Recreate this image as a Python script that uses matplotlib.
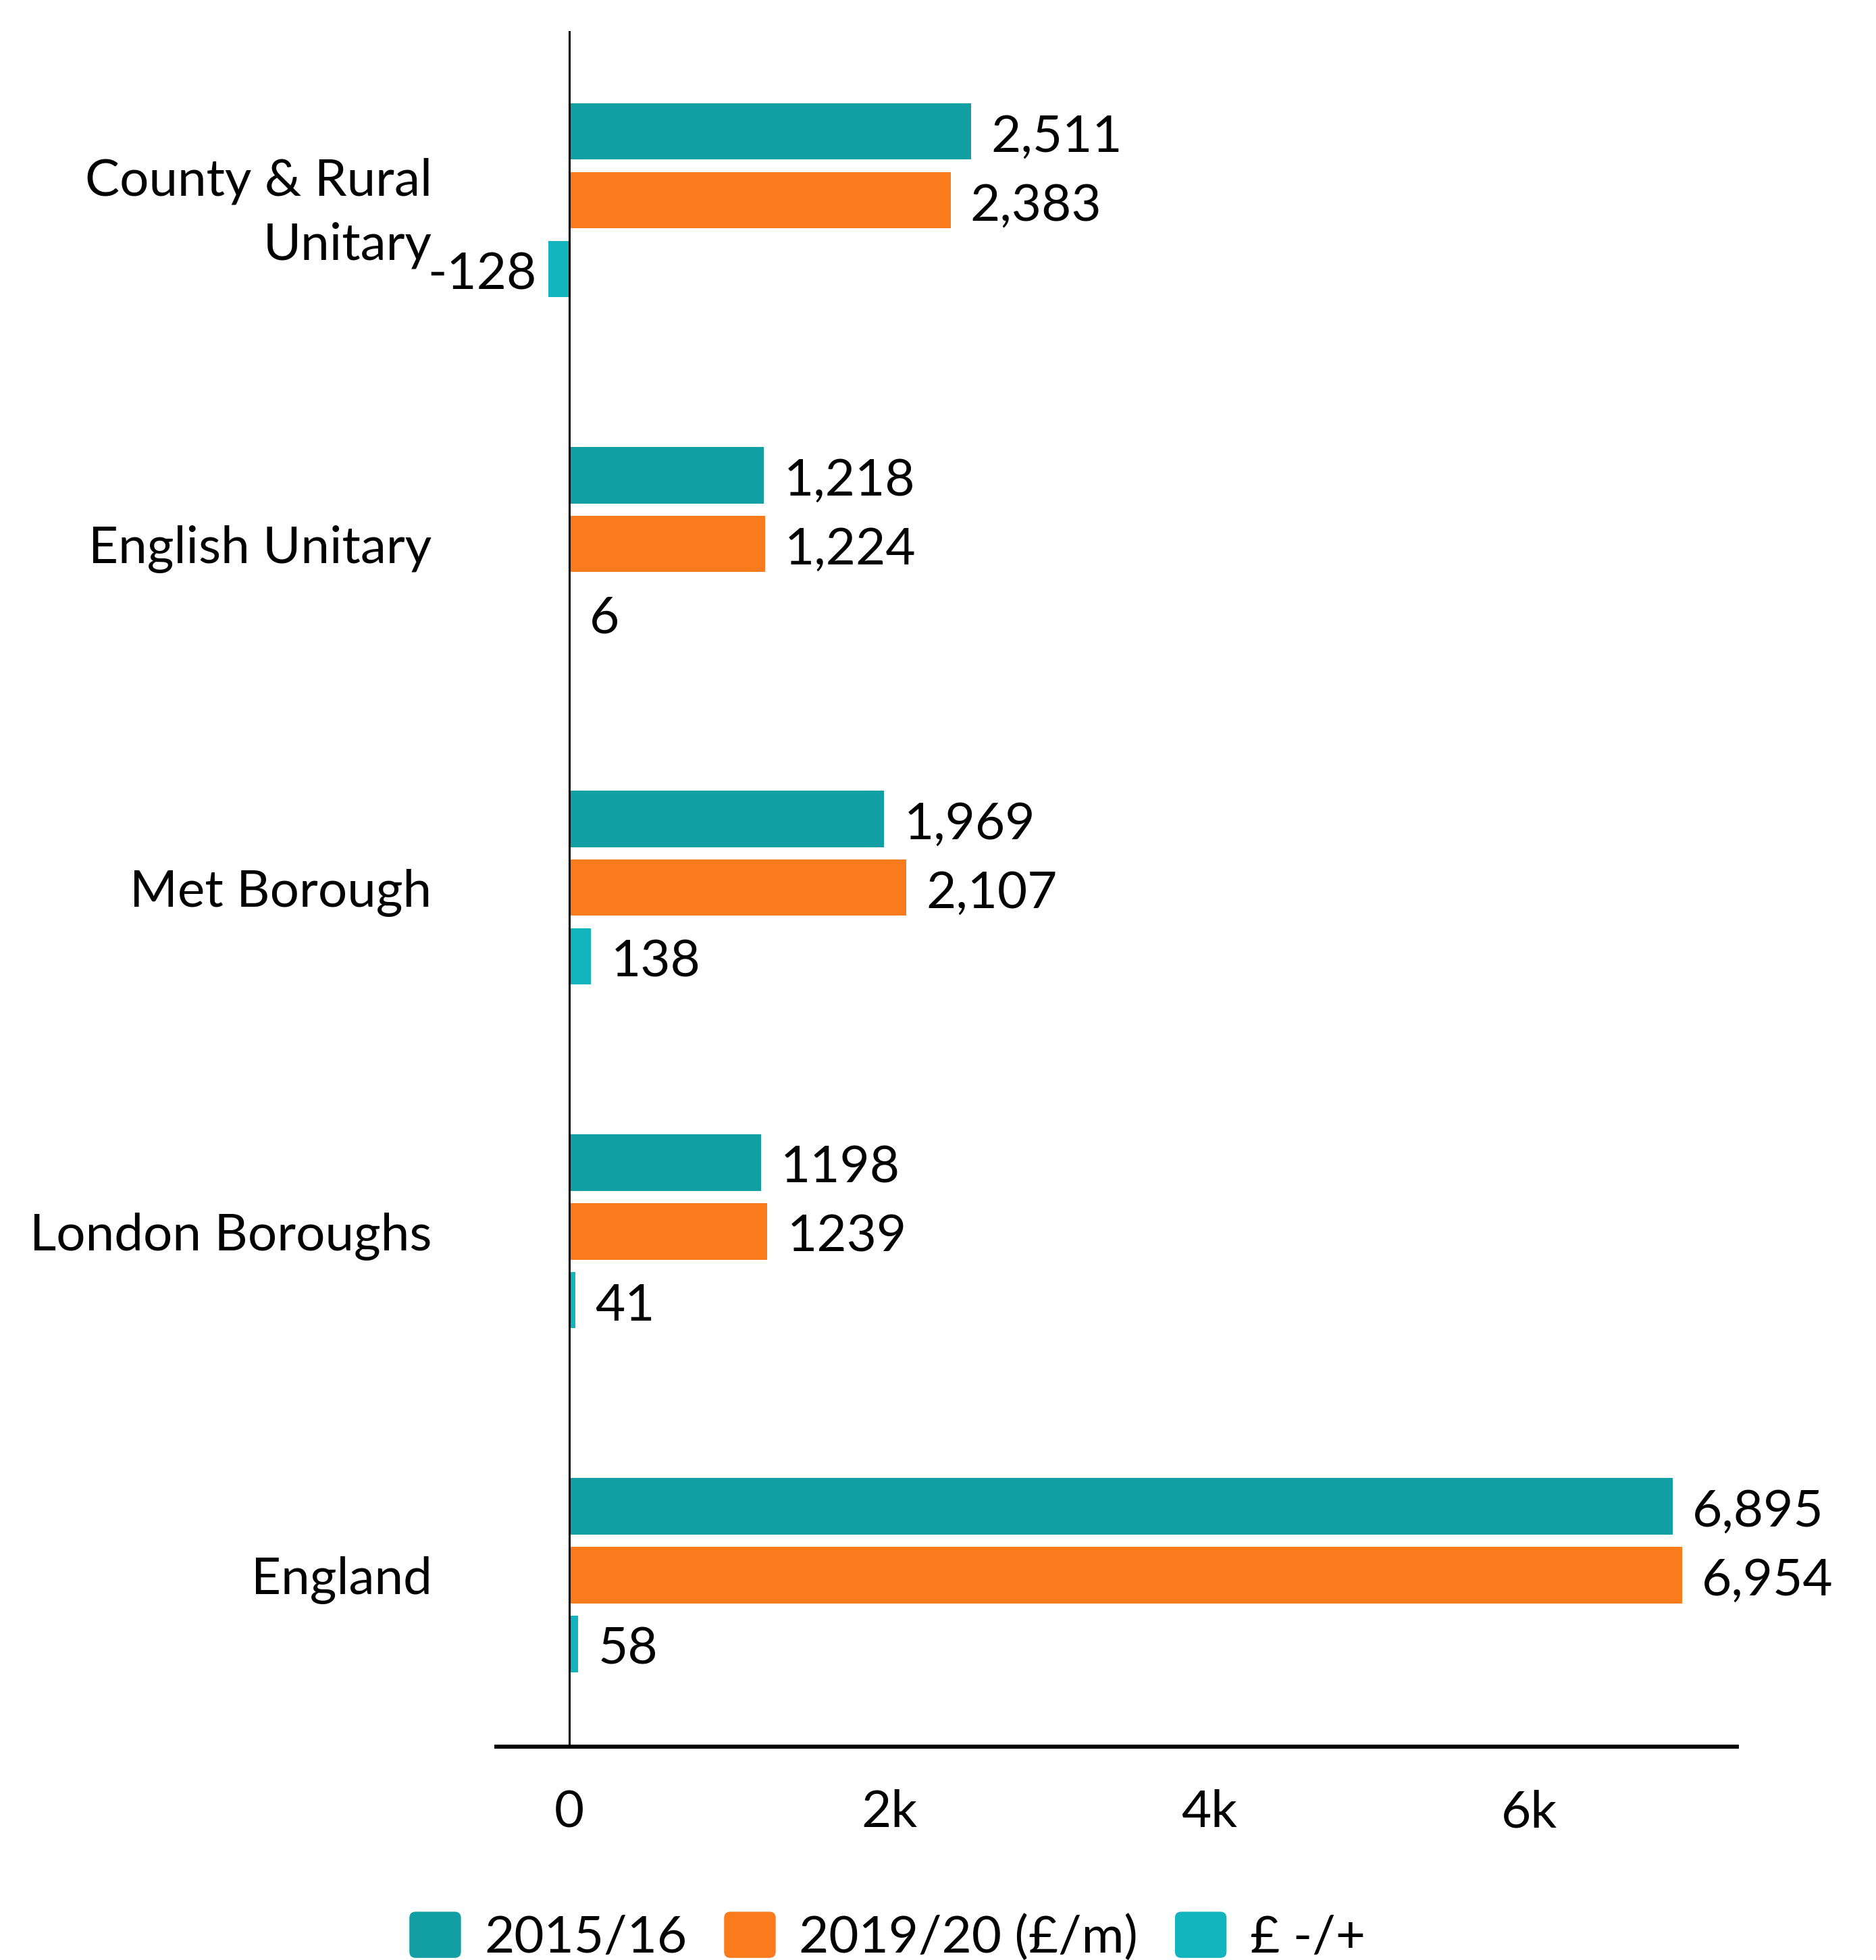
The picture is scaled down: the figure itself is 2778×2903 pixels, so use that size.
import matplotlib.pyplot as plt
from matplotlib.patches import FancyBboxPatch, Patch
from matplotlib.legend_handler import HandlerPatch

plt.rcParams['font.family'] = ['Lato', 'DejaVu Sans']

categories = ['County & Rural\nUnitary', 'English Unitary', 'Met Borough',
              'London Boroughs', 'England']
spend_2015 = [2511, 1218, 1969, 1198, 6895]
spend_2019 = [2383, 1224, 2107, 1239, 6954]
change = [-128, 6, 138, 41, 58]
labels_2015 = ['2,511', '1,218', '1,969', '1198', '6,895']
labels_2019 = ['2,383', '1,224', '2,107', '1239', '6,954']
labels_change = ['-128', '6', '138', '41', '58']

series = [
    ('2015/16', spend_2015, labels_2015, '#119fa4'),
    ('2019/20 (£/m)', spend_2019, labels_2019, '#f97b1b'),
    ('£ -/+', change, labels_change, '#12b5bd'),
]


class RoundBox(HandlerPatch):
    def create_artists(self, legend, orig_handle, xdescent, ydescent,
                       width, height, fontsize, trans):
        p = FancyBboxPatch((-xdescent, -ydescent), width, height,
                           boxstyle='round,pad=0,rounding_size=%f' % (width * 0.12),
                           facecolor=orig_handle.get_facecolor(),
                           edgecolor='none', transform=trans)
        return [p]


fig = plt.figure(figsize=(27.78, 29.03), dpi=100)
ax = fig.add_axes([0.2647, 0.109, 0.6613, 0.875])

fs = 55
bar_h = 0.164
step = 0.2
for j, (name, vals, labs, col) in enumerate(series):
    ys = [i + (j - 1) * step for i in range(len(categories))]
    ax.barh(ys, vals, height=bar_h, color=col, label=name)
    for y, v, t in zip(ys, vals, labs):
        if v < 0:
            ax.annotate(t, (v, y), xytext=(-13, -6), textcoords='offset points',
                        ha='right', va='center', fontsize=fs)
        else:
            ax.annotate(t, (v, y), xytext=(21, -6), textcoords='offset points',
                        ha='left', va='center', fontsize=fs)

ax.axvline(0, color='black', lw=2.2, zorder=3)
ax.set_xlim(-453, 7297)
ax.set_ylim(4.498, -0.491)
ax.set_xticks([0, 2000, 4000, 6000])
ax.set_xticklabels(['0', '2k', '4k', '6k'])
ax.set_yticks(range(len(categories)))
ax.set_yticklabels(categories, linespacing=1.45)
ax.tick_params(axis='x', length=0, pad=46, labelsize=fs)
ax.tick_params(axis='y', length=0, pad=69, labelsize=fs)
for s in ['top', 'right', 'left']:
    ax.spines[s].set_visible(False)
ax.spines['bottom'].set_linewidth(4.3)

handles = [Patch(facecolor=c) for _, _, _, c in series]
fig.legend(handles, [s[0] for s in series], loc='center',
           bbox_to_anchor=(0.473, 0.012), ncol=3, frameon=False,
           fontsize=fs, handlelength=1.0, handleheight=1.0,
           handletextpad=0.45, columnspacing=0.72,
           handler_map={Patch: RoundBox()})

fig.savefig('out.png', dpi=100)
